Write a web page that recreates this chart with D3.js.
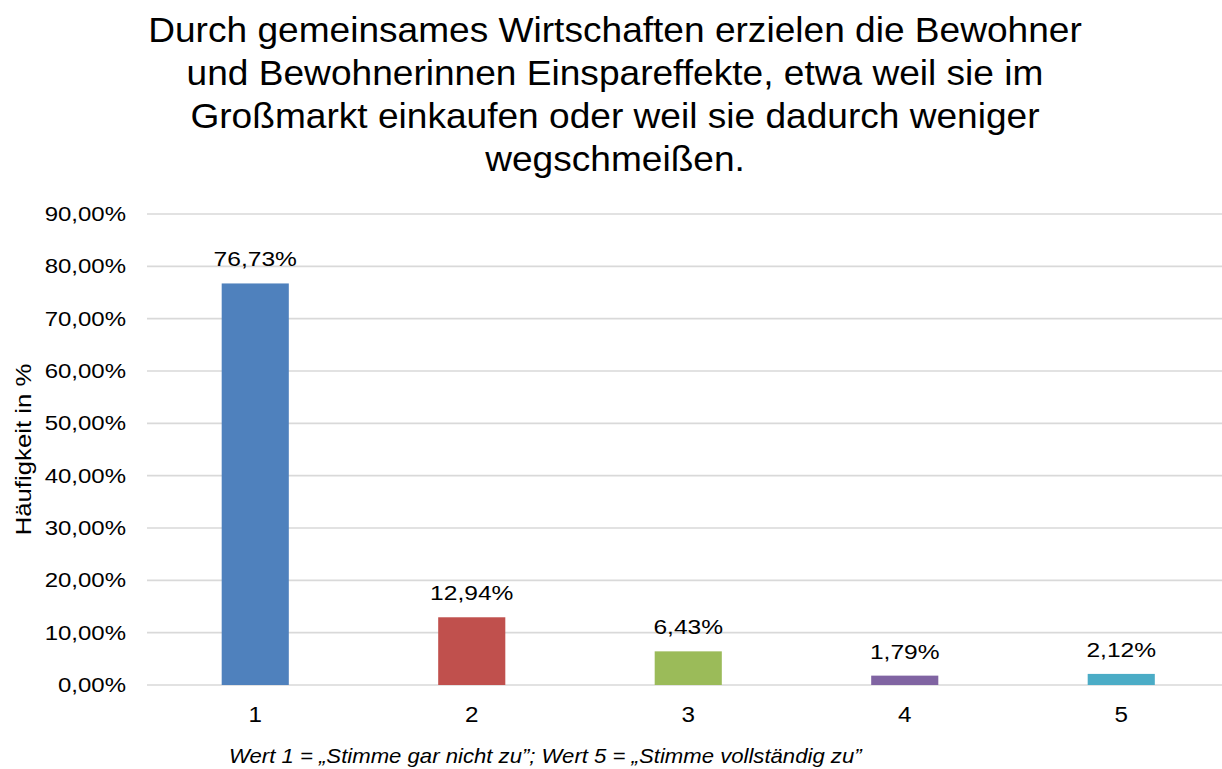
<!DOCTYPE html>
<html><head><meta charset="utf-8">
<script src="https://cdn.jsdelivr.net/npm/d3@7"></script>
<style>body{margin:0;background:#fff}svg{display:block}text{font-family:"Liberation Sans",Arial,sans-serif;fill:#000}</style>
</head><body><svg id="c" width="1222" height="769"></svg>
<script>
const categories = ["1","2","3","4","5"];
const values = [0.7673, 0.1294, 0.0643, 0.0179, 0.0212];
const colors = ["#4F81BD","#C0504D","#9BBB59","#8064A2","#4BACC6"];
const yTicks = [0,0.1,0.2,0.3,0.4,0.5,0.6,0.7,0.8,0.9];
const titleLines = ["Durch gemeinsames Wirtschaften erzielen die Bewohner","und Bewohnerinnen Einspareffekte, etwa weil sie im","Großmarkt einkaufen oder weil sie dadurch weniger","wegschmeißen."];
const yLabel = "Häufigkeit in %";
const footnote = "Wert 1 = „Stimme gar nicht zu”; Wert 5 = „Stimme vollständig zu”";

const de = d3.formatLocale({decimal:",",thousands:".",grouping:[3],currency:["","€"]});
const fmt = de.format(".2%");
const svg = d3.select("#c");
const W = 1222;
const x = d3.scaleBand().domain(categories).range([147,1229.5]).paddingInner(0.69).paddingOuter(0.345);
const y = d3.scaleLinear().domain([0,0.9]).range([685,214]);

// title
const tg = svg.append("g");
titleLines.forEach((t,i)=>{
  tg.append("text").attr("transform",`translate(${W/2+4},${42+i*43}) scale(1.06,1)`)
    .attr("text-anchor","middle").attr("font-size",35).text(t);
});

// gridlines
svg.append("g").selectAll("line").data(yTicks).join("line")
  .attr("x1",147).attr("x2",W).attr("y1",d=>y(d)).attr("y2",d=>y(d))
  .attr("stroke","#d9d9d9").attr("stroke-width",1.6);

// y tick labels
svg.append("g").selectAll("text").data(yTicks).join("text")
  .attr("transform",d=>`translate(126,${y(d)+7}) scale(1.23,1)`)
  .attr("text-anchor","end").attr("font-size",19.5).text(d=>fmt(d));

// bars
svg.append("g").selectAll("rect").data(values).join("rect")
  .attr("x",(d,i)=>x(categories[i])).attr("width",x.bandwidth())
  .attr("y",d=>y(d)).attr("height",d=>y(0)-y(d)).attr("fill",(d,i)=>colors[i]);

// value labels
svg.append("g").selectAll("text").data(values).join("text")
  .attr("transform",(d,i)=>`translate(${x(categories[i])+x.bandwidth()/2},${y(d)-17}) scale(1.17,1)`)
  .attr("text-anchor","middle").attr("font-size",21).text(d=>fmt(d));

// x tick labels
svg.append("g").selectAll("text").data(categories).join("text")
  .attr("transform",d=>`translate(${x(d)+x.bandwidth()/2},722) scale(1.1,1)`)
  .attr("text-anchor","middle").attr("font-size",22).text(d=>d);

// y axis label
svg.append("text").attr("transform",`translate(31,${(y(0)+y(0.9))/2}) rotate(-90) scale(1.12,1)`)
  .attr("text-anchor","middle").attr("font-size",23).text(yLabel);

// footnote
svg.append("text").attr("transform","translate(229,763) scale(1.08,1)")
  .attr("font-size",20.5).attr("font-style","italic").text(footnote);
</script></body></html>
